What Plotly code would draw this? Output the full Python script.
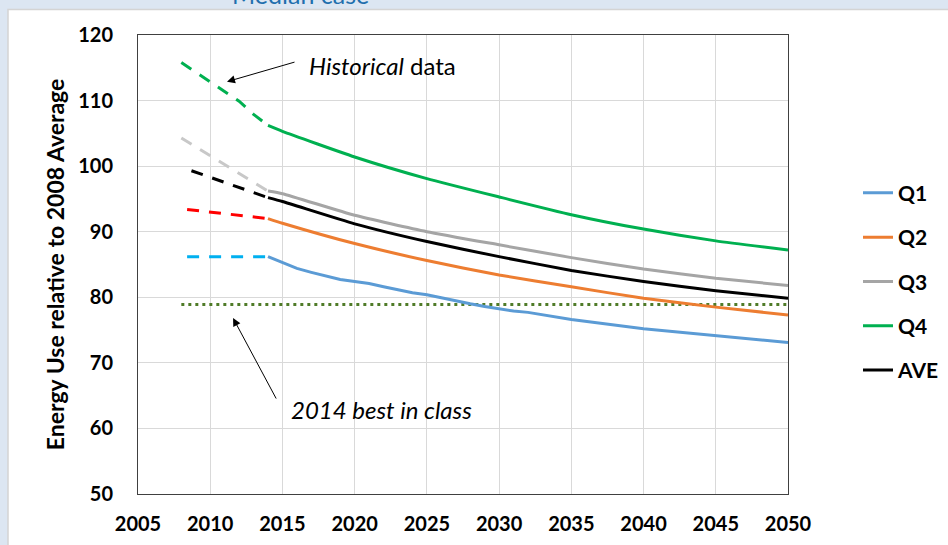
import plotly.graph_objects as go

# ---------------- data ----------------
proj_years = [2014, 2015, 2020, 2025, 2030, 2035, 2040, 2045, 2050]
q2_proj = [92.0, 91.3, 88.2, 85.6, 83.4, 81.6, 79.85, 78.5, 77.3]
q3_proj = [96.2, 95.8, 92.5, 90.0, 88.0, 86.05, 84.3, 82.9, 81.8]
q4_proj = [106.2, 105.3, 101.4, 98.1, 95.3, 92.6, 90.4, 88.6, 87.2]
ave_proj = [95.2, 94.6, 91.2, 88.5, 86.2, 84.1, 82.4, 81.0, 79.85]

q1_years = [2014, 2015, 2016, 2017, 2018, 2019, 2020, 2021, 2022, 2023, 2024, 2025,
            2026, 2027, 2028, 2029, 2030, 2031, 2032, 2035, 2040, 2045, 2050]
q1_proj = [86.2, 85.3, 84.4, 83.8, 83.3, 82.7, 82.4, 82.1, 81.6, 81.1, 80.7, 80.4,
           79.9, 79.4, 79.0, 78.6, 78.2, 77.9, 77.7, 76.6, 75.2, 74.1, 73.1]

q1_hist_years = [2008.4, 2014]
q1_hist = [86.2, 86.2]
q2_hist_years = [2008.4, 2014]
q2_hist = [93.4, 92.0]
q3_hist_years = [2008, 2014]
q3_hist = [104.3, 96.2]
q4_hist_years = [2008, 2010, 2012, 2013, 2014]
q4_hist = [115.8, 112.8, 109.9, 107.9, 106.2]
ave_hist_years = [2008.7, 2014]
ave_hist = [99.3, 95.2]

best_years = [2008, 2050]
best_value = [78.9, 78.9]

x_ticks = [2005, 2010, 2015, 2020, 2025, 2030, 2035, 2040, 2045, 2050]
y_ticks = [50, 60, 70, 80, 90, 100, 110, 120]

FONT = "Lato"

fig = go.Figure()

# historical dashed segments
hist = [
    (q1_hist_years, q1_hist, "#00b0f0"),
    (q2_hist_years, q2_hist, "#ff0000"),
    (q3_hist_years, q3_hist, "#c8c8c8"),
    (q4_hist_years, q4_hist, "#00b050"),
    (ave_hist_years, ave_hist, "#000000"),
]
for xs, ys, col in hist:
    fig.add_trace(go.Scatter(x=xs, y=ys, mode="lines", showlegend=False, hoverinfo="skip",
                             line=dict(color=col, width=3, dash="12px,10px")))

# best in class dotted
fig.add_trace(go.Scatter(x=best_years, y=best_value, mode="lines", showlegend=False,
                         line=dict(color="#4f7b28", width=3, dash="3px,4px")))

# projections
proj = [
    ("Q1", q1_years, q1_proj, "#5b9bd5", "linear"),
    ("Q2", proj_years, q2_proj, "#ed7d31", "spline"),
    ("Q3", proj_years, q3_proj, "#a5a5a5", "spline"),
    ("Q4", proj_years, q4_proj, "#00b050", "spline"),
    ("AVE", proj_years, ave_proj, "#000000", "spline"),
]
for name, xs, ys, col, shp in proj:
    fig.add_trace(go.Scatter(x=xs, y=ys, mode="lines", name=name, legendgroup=name,
                             line=dict(color=col, width=3, shape=shp, smoothing=0.5)))

shapes = [
    dict(type="rect", xref="paper", yref="paper", x0=(8 - 138) / 650, x1=(960 - 138) / 650,
         y0=(494 - 560) / 459, y1=(494 - 9.5) / 459, fillcolor="white",
         line=dict(color="#d4d4d4", width=1.5), layer="below"),
]

annotations = [
    dict(text="Median case", xref="paper", yref="paper", x=(300 - 138) / 650,
         y=(494 - 11) / 459, xanchor="center", yanchor="bottom", showarrow=False,
         font=dict(family=FONT, size=25, color="#1f6fad")),
    dict(text="<i>Historical</i> data", xref="x", yref="y", x=2016.7, y=115.3,
         xanchor="left", yanchor="middle", showarrow=False,
         font=dict(family=FONT, size=24, color="#000000")),
    dict(text="", xref="x", yref="y", axref="x", ayref="y", x=2011.16, y=112.88,
         ax=2015.94, ay=115.93, showarrow=True, arrowhead=2, arrowsize=1.6,
         arrowwidth=1, arrowcolor="#000000"),
    dict(text="<i>2014 best in class</i>", xref="x", yref="y", x=2015.45, y=62.96,
         xanchor="left", yanchor="middle", showarrow=False,
         font=dict(family=FONT, size=24, color="#000000")),
    dict(text="", xref="x", yref="y", axref="x", ayref="y", x=2011.58, y=76.84,
         ax=2014.62, ay=64.33, showarrow=True, arrowhead=2, arrowsize=1.6,
         arrowwidth=1, arrowcolor="#000000"),
]

fig.update_layout(
    width=948, height=545,
    margin=dict(l=138, r=160, t=35, b=51, autoexpand=False),
    paper_bgcolor="#dce6f2",
    plot_bgcolor="white",
    font=dict(family=FONT, color="#000000"),
    shapes=shapes,
    annotations=annotations,
    legend=dict(x=(858 - 138) / 650, xanchor="left", y=(494 - 281.7) / 459, yanchor="middle",
                font=dict(family=FONT, size=21, color="#000000", weight="bold"),
                tracegroupgap=14, bgcolor="rgba(0,0,0,0)"),
    xaxis=dict(range=[2005, 2050], tickvals=x_ticks, ticktext=[str(v) for v in x_ticks],
               showgrid=True, gridcolor="#d9d9d9", gridwidth=1,
               showline=True, linecolor="#404040", linewidth=1, mirror=True,
               zeroline=False, ticks="", ticklabelstandoff=12,
               tickfont=dict(family=FONT, size=20, color="#000000", weight="bold")),
    yaxis=dict(range=[50, 120], tickvals=y_ticks, ticktext=[str(v) for v in y_ticks],
               showgrid=True, gridcolor="#d9d9d9", gridwidth=1,
               showline=True, linecolor="#404040", linewidth=1, mirror=True,
               zeroline=False, ticks="", ticklabelstandoff=20,
               tickfont=dict(family=FONT, size=20, color="#000000", weight="bold"),
               title=dict(text="Energy Use relative to 2008 Average", standoff=7,
                          font=dict(family=FONT, size=23, color="#000000", weight="bold"))),
)

fig.write_html("out.html", config={"displayModeBar": False},
               post_script="document.body.style.margin='0px';")
